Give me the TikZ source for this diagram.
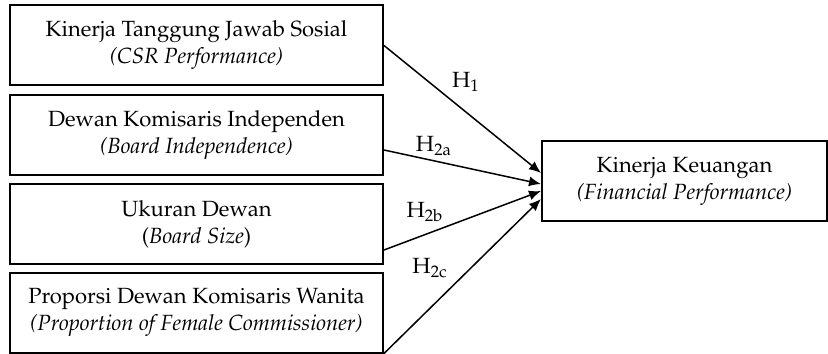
\documentclass[tikz,border=0pt]{standalone}
\usepackage[T1]{fontenc}
\usepackage{mathpazo}
\usetikzlibrary{arrows.meta}
\begin{document}
\begin{tikzpicture}[x=0.5pt, y=-0.5pt,
  varbox/.style={draw, line width=1pt, minimum width=186.5pt, minimum height=40pt, align=center, font=\fontsize{11}{13.5}\selectfont, inner sep=0pt},
  arr/.style={line width=0.75pt, -{Latex[length=6pt, width=5pt]}},
  hyp/.style={font=\fontsize{11}{12}\selectfont, inner sep=0pt}]
\useasboundingbox (0,0) rectangle (828,353);
\node[varbox] (csr) at (196.5,45.5){Kinerja Tanggung Jawab Sosial\\\textit{(CSR Performance)}};
\node[varbox] (dki) at (196.5,135){Dewan Komisaris Independen\\\textit{(Board Independence)}};
\node[varbox] (ud) at (196.5,224){Ukuran Dewan\\(\textit{Board Size})};
\node[varbox] (pdkw) at (196.5,312.5){Proporsi Dewan Komisaris Wanita\\\textit{(Proportion of Female Commissioner)}};
\node[varbox, minimum width=142.5pt] (kk) at (684.5,181){Kinerja Keuangan\\\textit{(Financial Performance)}};
\draw[arr](csr.east) -- ([yshift=4pt]kk.west);
\draw[arr]([yshift=-7.5pt]dki.east) -- ([yshift=-1.5pt]kk.west);
\draw[arr]([yshift=-13pt]ud.east) -- ([yshift=-5pt]kk.west);
\draw[arr](pdkw.south east) -- ([yshift=-9pt]kk.west);
\node[hyp] (h1) at (466,82){H\textsubscript{1}};
\node[hyp] (h2a) at (434,146){H\textsubscript{2a}};
\node[hyp] (h2b) at (425,212){H\textsubscript{2b}};
\node[hyp] (h2c) at (430,268){H\textsubscript{2c}};
\end{tikzpicture}
\end{document}
